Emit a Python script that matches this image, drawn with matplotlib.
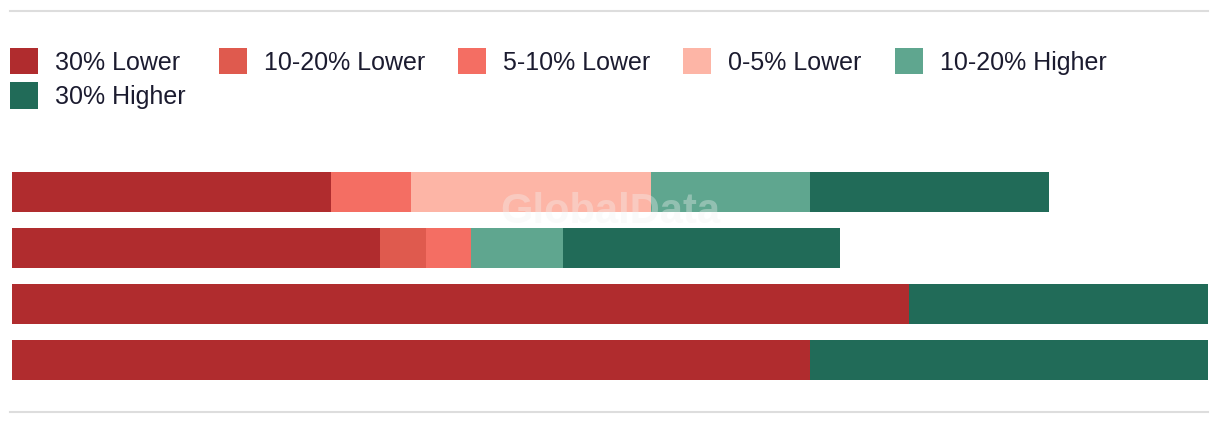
import numpy as np
import matplotlib.pyplot as plt
from matplotlib.lines import Line2D

plt.rcParams['font.family'] = ['Liberation Sans', 'DejaVu Sans']

# Data (share of each bar, % of axis width)
rows = ['A', 'B', 'C', 'D']
series = ['30% Lower', '10-20% Lower', '5-10% Lower', '0-5% Lower', '10-20% Higher', '30% Higher']
lower30 = [26.7, 30.8, 75.0, 66.7]
lower10_20 = [0.0, 3.8, 0.0, 0.0]
lower5_10 = [6.7, 3.8, 0.0, 0.0]
lower0_5 = [20.0, 0.0, 0.0, 0.0]
higher10_20 = [13.3, 7.7, 0.0, 0.0]
higher30 = [20.0, 23.1, 25.0, 33.3]
colors = ['#b02c2e', '#df5a4e', '#f46e63', '#fdb5a6', '#5fa68f', '#216b58']

values = [lower30, lower10_20, lower5_10, lower0_5, higher10_20, higher30]

W, H = 1220, 426
fig = plt.figure(figsize=(W / 100, H / 100), dpi=100)
ax = fig.add_axes([12 / W, 1 - 388 / H, 1196 / W, 224 / H])

y = np.arange(len(rows))
left = np.zeros(len(rows))
handles = []
for vals, col, name in zip(values, colors, series):
    b = ax.barh(y, vals, left=left, height=40 / 56, color=col, label=name)
    handles.append(b)
    left = left + np.array(vals)

ax.set_xlim(0, 100)
ax.set_ylim(3.5, -0.5)
ax.axis('off')

# legend fills column by column, so reorder to read row by row
order = [0, 5, 1, 2, 3, 4]
leg = fig.legend(handles=[handles[i] for i in order], labels=[series[i] for i in order],
                 ncol=5, loc='upper left',
                 bbox_to_anchor=(10 / W, 1 - 48 / H), frameon=False,
                 fontsize=18, handlelength=1.12, handleheight=1.25,
                 handletextpad=0.68, columnspacing=1.32, labelspacing=0.3,
                 borderpad=0, borderaxespad=0)
for t in leg.get_texts():
    t.set_color('#1b1b2f')

# top and bottom rules
for yy in (11, 412):
    fig.add_artist(Line2D([10 / W, 1208 / W], [1 - yy / H, 1 - yy / H],
                          color='#dddddd', lw=1.5, transform=fig.transFigure))

# watermark
fig.text(610 / W, 1 - 212 / H, 'GlobalData', color='#f2f2f2', alpha=0.35,
         fontsize=30, fontweight='bold', ha='center', va='center')

fig.savefig('out.png', dpi=100)
